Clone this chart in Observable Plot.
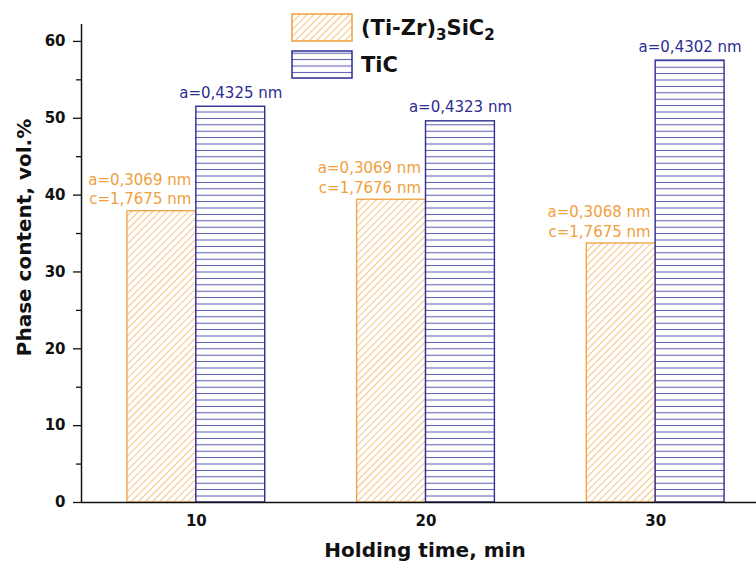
<!DOCTYPE html>
<html><head><meta charset="utf-8">
<script src="https://cdn.jsdelivr.net/npm/d3@7"></script>
<script src="https://cdn.jsdelivr.net/npm/@observablehq/plot@0.6"></script>
<style>
body{margin:0;background:#fff;}
#wrap{position:relative;width:756px;height:567px;overflow:hidden;}
#legend{position:absolute;left:291px;top:13px;font-family:"DejaVu Sans",sans-serif;font-weight:bold;font-size:21px;color:#111;}
.row{display:flex;align-items:center;height:29px;margin-bottom:8px;}
.row svg{display:block;margin-right:8px;}
sub{font-size:0.72em;vertical-align:-0.35em;line-height:0;}
</style></head><body><div id="wrap"><div id="legend"></div></div>
<script>
// ---- data ----
const times = [10, 20, 30];
const maxPhaseValues = [37.9, 39.4, 33.7];
const ticValues = [51.5, 49.6, 57.5];
const maxPhaseLabels = ["a=0,3069 nm\nc=1,7675 nm", "a=0,3069 nm\nc=1,7676 nm", "a=0,3068 nm\nc=1,7675 nm"];
const ticLabels = ["a=0,4325 nm", "a=0,4323 nm", "a=0,4302 nm"];
const yTicks = [0, 10, 20, 30, 40, 50, 60];
const yMinorTicks = [5, 15, 25, 35, 45, 55];
const seriesNames = ["(Ti-Zr)<sub>3</sub>SiC<sub>2</sub>", "TiC"];
const xTitle = "Holding time, min";
const yTitle = "Phase content, vol.%";

// ---- style ----
const orange = "#f0a03c";
const blue = "#2d2d92";
const xDomain = [5, 35];
const barW = 3;

const maxRows = times.map((t, i) => ({time: t, value: maxPhaseValues[i], label: maxPhaseLabels[i]}));
const ticRows = times.map((t, i) => ({time: t, value: ticValues[i], label: ticLabels[i]}));

const svg = Plot.plot({
  width: 756,
  height: 567,
  marginLeft: 81,
  marginRight: 0,
  marginTop: 24,
  marginBottom: 65,
  style: {fontFamily: "DejaVu Sans, sans-serif", fontSize: "15px", background: "white", color: "#111"},
  x: {type: "linear", domain: xDomain, range: [81, 770], label: null},
  y: {domain: [0, 62.2], label: null},
  marks: [
    Plot.rectY(maxRows, {x1: d => d.time - barW, x2: "time", y1: 0, y2: "value", fill: "url(#hatchO)", stroke: orange, strokeWidth: 1.3}),
    Plot.rectY(ticRows, {x1: "time", x2: d => d.time + barW, y1: 0, y2: "value", fill: "url(#hatchB)", stroke: blue, strokeWidth: 1.4}),
    Plot.text(maxRows, {x: "time", y: "value", text: "label", textAnchor: "end", lineAnchor: "bottom", dx: -5, dy: -7, lineHeight: 1.3, fill: orange, fontSize: 15}),
    Plot.text(ticRows, {x: d => d.time + barW / 2, y: "value", text: "label", lineAnchor: "bottom", dy: -9, fill: blue, fontSize: 15}),
    Plot.ruleY([0], {stroke: "#111", strokeWidth: 1.5}),
    Plot.ruleX([xDomain[0]], {stroke: "#111", strokeWidth: 1.5}),
    Plot.axisY({ticks: yTicks, tickSize: 8, tickPadding: 8, fontWeight: "bold", fontSize: 15, stroke: "#111", strokeWidth: 1.3, label: null}),
    Plot.axisY({ticks: yMinorTicks, tickSize: 5, tickFormat: () => "", stroke: "#111", strokeWidth: 1.3, label: null}),
    Plot.axisX({ticks: times, tickSize: 0, tickPadding: 13, fontWeight: "bold", fontSize: 15, label: null}),
    Plot.text([xTitle], {frameAnchor: "bottom", textAnchor: "middle", lineAnchor: "middle", dx: 6, dy: 48, fontWeight: "bold", fontSize: 20, fill: "#111"}),
    Plot.text([yTitle], {frameAnchor: "left", textAnchor: "middle", lineAnchor: "middle", rotate: -90, dx: -57, dy: -26, fontWeight: "bold", fontSize: 20, fill: "#111"})
  ]
});

const defs = d3.select(svg).insert("defs", ":first-child");
const po = defs.append("pattern").attr("id", "hatchO").attr("patternUnits", "userSpaceOnUse")
  .attr("width", 5).attr("height", 5).attr("patternTransform", "rotate(45)");
po.append("rect").attr("width", 5).attr("height", 5).attr("fill", "white");
po.append("line").attr("x1", 2.5).attr("y1", 0).attr("x2", 2.5).attr("y2", 5).attr("stroke", "#f4c485").attr("stroke-width", 1);
const pb = defs.append("pattern").attr("id", "hatchB").attr("patternUnits", "userSpaceOnUse")
  .attr("width", 10).attr("height", 6.4);
pb.append("rect").attr("width", 10).attr("height", 6.4).attr("fill", "white");
pb.append("line").attr("x1", 0).attr("y1", 3.2).attr("x2", 10).attr("y2", 3.2).attr("stroke", "#5656b0").attr("stroke-width", 1);

document.getElementById("wrap").appendChild(svg);

const legend = document.getElementById("legend");
const fills = ["url(#hatchO)", "url(#hatchB)"];
const strokes = [orange, blue];
seriesNames.forEach((name, i) => {
  const row = document.createElement("div");
  row.className = "row";
  row.innerHTML = `<svg width="62" height="29"><rect x="1" y="1" width="60" height="27" fill="${fills[i]}" stroke="${strokes[i]}" stroke-width="1.5"/></svg><span>${name}</span>`;
  legend.appendChild(row);
});
</script></body></html>
